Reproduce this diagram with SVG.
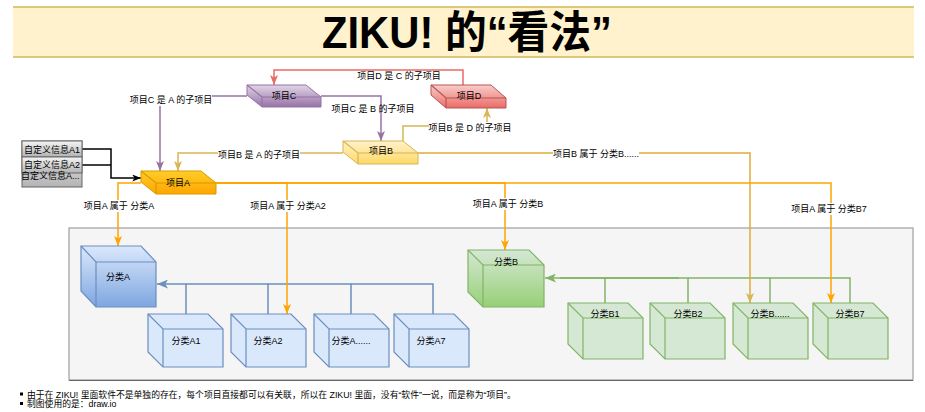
<svg xmlns="http://www.w3.org/2000/svg" width="925" height="412" viewBox="0 0 925 412">
<style>
text{font-family:'Liberation Sans','Noto Sans CJK SC',sans-serif;font-size:9px;fill:#000}
.lbl{text-anchor:middle}
.bg{fill:#fff}
.edge{fill:none;stroke-width:1.5}
.cubeA{fill:#dae8fc;stroke:#6c8ebf;stroke-width:1.2}
.cubeB{fill:#d5e8d4;stroke:#82b366;stroke-width:1.2}
.in{fill:none;stroke-width:1.2}
</style>
<defs>
<linearGradient id="gA" x1="0" y1="0" x2="0" y2="1"><stop offset="0" stop-color="#dae8fc"/><stop offset="1" stop-color="#7ea6e0"/></linearGradient>
<linearGradient id="gB" x1="0" y1="0" x2="0" y2="1"><stop offset="0" stop-color="#d5e8d4"/><stop offset="1" stop-color="#97d077"/></linearGradient>
<linearGradient id="gPA" x1="0" y1="0" x2="0" y2="1"><stop offset="0" stop-color="#ffcd28"/><stop offset="1" stop-color="#ffa500"/></linearGradient>
<linearGradient id="gPB" x1="0" y1="0" x2="0" y2="1"><stop offset="0" stop-color="#fff2cc"/><stop offset="1" stop-color="#ffd966"/></linearGradient>
<linearGradient id="gPC" x1="0" y1="0" x2="0" y2="1"><stop offset="0" stop-color="#e1d5e7"/><stop offset="1" stop-color="#9673a6"/></linearGradient>
<linearGradient id="gPD" x1="0" y1="0" x2="0" y2="1"><stop offset="0" stop-color="#f8cecc"/><stop offset="1" stop-color="#ea6b66"/></linearGradient>
<linearGradient id="gT" x1="0" y1="0" x2="0" y2="1"><stop offset="0" stop-color="#f5f5f5"/><stop offset="1" stop-color="#b3b3b3"/></linearGradient>
<marker id="mRed" viewBox="0 0 10 8" refX="10" refY="4" markerWidth="10" markerHeight="8" markerUnits="userSpaceOnUse" orient="auto"><path d="M0,0 L10,4 L0,8 L2.5,4 Z" fill="#ea6b66"/></marker>
<marker id="mPur" viewBox="0 0 10 8" refX="10" refY="4" markerWidth="10" markerHeight="8" markerUnits="userSpaceOnUse" orient="auto"><path d="M0,0 L10,4 L0,8 L2.5,4 Z" fill="#9673a6"/></marker>
<marker id="mGold" viewBox="0 0 10 8" refX="10" refY="4" markerWidth="10" markerHeight="8" markerUnits="userSpaceOnUse" orient="auto"><path d="M0,0 L10,4 L0,8 L2.5,4 Z" fill="#d6b656"/></marker>
<marker id="mOr" viewBox="0 0 10 8" refX="10" refY="4" markerWidth="10" markerHeight="8" markerUnits="userSpaceOnUse" orient="auto"><path d="M0,0 L10,4 L0,8 L2.5,4 Z" fill="#ffa500"/></marker>
<marker id="mBlk" viewBox="0 0 10 8" refX="10" refY="4" markerWidth="9" markerHeight="7" markerUnits="userSpaceOnUse" orient="auto"><path d="M0,0 L10,4 L0,8 L2.5,4 Z" fill="#000"/></marker>
<marker id="mBlue" viewBox="0 0 10 8" refX="10" refY="4" markerWidth="11" markerHeight="9" markerUnits="userSpaceOnUse" orient="auto"><path d="M0,0 L10,4 L0,8 L2.5,4 Z" fill="#6c8ebf"/></marker>
<marker id="mGreen" viewBox="0 0 10 8" refX="10" refY="4" markerWidth="11" markerHeight="9" markerUnits="userSpaceOnUse" orient="auto"><path d="M0,0 L10,4 L0,8 L2.5,4 Z" fill="#82b366"/></marker>
</defs>

<g id="title">
<rect x="13" y="7" width="901" height="50" fill="#fff2cc"/>
<line x1="13" y1="7" x2="914" y2="7" stroke="#d6b656" stroke-width="1.5"/>
<line x1="13" y1="57" x2="914" y2="57" stroke="#d6b656" stroke-width="1.5"/>
<text x="467" y="48" text-anchor="middle" style="font-size:44px;font-weight:bold" textLength="290" lengthAdjust="spacingAndGlyphs">ZIKU! 的“看法”</text>
</g>

<g id="container">
<rect x="69" y="228" width="844" height="152" fill="#f5f5f5" stroke="#9e9e9e" stroke-width="1.2"/>
<line x1="69" y1="380.5" x2="913" y2="380.5" stroke="#666" stroke-width="1"/>
</g>

<g id="connectors">
<!-- category A bus -->
<path class="edge" stroke="#6c8ebf" stroke-width="2" d="M186,314 V284 H157" marker-end="url(#mBlue)"/>
<path class="edge" stroke="#6c8ebf" stroke-width="2" d="M268,314 V284 H186"/>
<path class="edge" stroke="#6c8ebf" stroke-width="2" d="M351,314 V284 H268"/>
<path class="edge" stroke="#6c8ebf" stroke-width="2" d="M433,314 V284 H351"/>
<!-- category B bus -->
<path class="edge" stroke="#82b366" stroke-width="2" d="M605,303 V278 H545" marker-end="url(#mGreen)"/>
<path class="edge" stroke="#82b366" stroke-width="3" d="M679,278 H560"/>
<path class="edge" stroke="#82b366" stroke-width="2" d="M688,303 V278 H605"/>
<path class="edge" stroke="#82b366" stroke-width="2" d="M770,303 V278 H688"/>
<path class="edge" stroke="#82b366" stroke-width="2" d="M850,303 V278 H770"/>
<!-- table to A -->
<path class="edge" stroke="#000" stroke-width="1.2" d="M82,149 H111 V178 H141" marker-end="url(#mBlk)"/>
<path class="edge" stroke="#000" stroke-width="1.2" d="M82,165 H111"/>
<!-- D to C -->
<path class="edge" stroke="#ea6b66" d="M463,85 V70 H274 V85" marker-end="url(#mRed)"/>
<!-- C to A -->
<path class="edge" stroke="#9673a6" stroke-width="2" d="M247,96 H160 V171" marker-end="url(#mPur)"/>
<!-- C to B -->
<path class="edge" stroke="#9673a6" stroke-width="2" d="M321,96 H381 V141" marker-end="url(#mPur)"/>
<!-- B to A -->
<path class="edge" stroke="#d6b656" d="M343,153 H178 V171" marker-end="url(#mGold)"/>
<!-- B to D -->
<path class="edge" stroke="#d6b656" d="M403,141 V126 H487 V108" marker-end="url(#mGold)"/>
<!-- B to B... -->
<path class="edge" stroke="#e0ac38" d="M418,153 H750 V303" marker-end="url(#mGold)"/>
<!-- A to categories -->
<path class="edge" stroke="#ffa500" d="M141,183 H118 V246" marker-end="url(#mOr)"/>
<path class="edge" stroke="#ffa500" d="M216,183 H287 V314" marker-end="url(#mOr)"/>
<path class="edge" stroke="#ffa500" d="M216,183 H505 V250" marker-end="url(#mOr)"/>
<path class="edge" stroke="#ffa500" d="M216,183 H831 V303" marker-end="url(#mOr)"/>
<!-- labels -->
<text class="lbl" x="399" y="79">项目D 是 C 的子项目</text>
<rect class="bg" x="130" y="94" width="82" height="12"/>
<text class="lbl" x="171" y="103">项目C 是 A 的子项目</text>
<text class="lbl" x="373" y="112">项目C 是 B 的子项目</text>
<rect class="bg" x="218" y="149" width="82" height="12"/>
<text class="lbl" x="259" y="158">项目B 是 A 的子项目</text>
<rect class="bg" x="429" y="122" width="82" height="12"/>
<text class="lbl" x="470" y="131">项目B 是 D 的子项目</text>
<rect class="bg" x="553" y="148" width="86" height="12"/>
<text class="lbl" x="596" y="157">项目B 属于 分类B......</text>
<rect class="bg" x="83" y="200" width="71" height="12"/>
<text class="lbl" x="119" y="209">项目A 属于 分类A</text>
<rect class="bg" x="250" y="200" width="76" height="12"/>
<text class="lbl" x="288" y="209">项目A 属于 分类A2</text>
<rect class="bg" x="472" y="198" width="72" height="12"/>
<text class="lbl" x="508" y="207">项目A 属于 分类B</text>
<rect class="bg" x="791" y="203" width="76" height="12"/>
<text class="lbl" x="829" y="212">项目A 属于 分类B7</text>
</g>

<g id="table">
<rect x="22" y="141" width="60" height="46" fill="url(#gT)" stroke="#666" stroke-width="1"/>
<rect x="22" y="141" width="60" height="16" fill="url(#gT)" stroke="#666" stroke-width="1"/>
<rect x="22" y="157" width="60" height="16" fill="url(#gT)" stroke="#666" stroke-width="1"/>
<text x="24" y="152.5">自定义信息A1</text>
<text x="24" y="168">自定义信息A2</text>
<text x="21" y="178.5">自定义信息A...</text>
</g>

<g id="projectA">
<path d="M141,171 H201 L216,183 V194 H156 L141,182 Z" fill="url(#gPA)" stroke="#d79b00" stroke-width="1"/>
<path class="in" stroke="#d79b00" d="M141,171 L156,183 H216 M156,183 V194"/>
<text class="lbl" x="178" y="186">项目A</text>
</g>
<g id="projectB">
<path d="M343,141 H403 L418,153 V164 H358 L343,152 Z" fill="url(#gPB)" stroke="#d6b656" stroke-width="1"/>
<path class="in" stroke="#d6b656" d="M343,141 L358,153 H418 M358,153 V164"/>
<text class="lbl" x="381" y="154">项目B</text>
</g>
<g id="projectC">
<path d="M247,85 H306 L321,97 V107 H262 L247,95 Z" fill="url(#gPC)" stroke="#9673a6" stroke-width="1"/>
<path class="in" stroke="#9673a6" d="M247,85 L262,97 H321 M262,97 V107"/>
<text class="lbl" x="284" y="99">项目C</text>
</g>
<g id="projectD">
<path d="M431,85 H491 L506,98 V108 H446 L431,95 Z" fill="url(#gPD)" stroke="#b85450" stroke-width="1"/>
<path class="in" stroke="#b85450" d="M431,85 L446,98 H506 M446,98 V108"/>
<text class="lbl" x="469" y="99">项目D</text>
</g>

<g id="catA">
<path d="M81,246 H141 L156,262 V307 H96 L81,291 Z" fill="url(#gA)" stroke="#6c8ebf" stroke-width="1.2"/>
<path class="in" stroke="#6c8ebf" d="M81,246 L96,262 H156 M96,262 V307"/>
<text class="lbl" x="118" y="280">分类A</text>
</g>
<g id="catA1">
<path class="cubeA" d="M148,314 H208 L223,329 V367 H163 L148,352 Z"/>
<path class="in" stroke="#6c8ebf" d="M148,314 L163,329 H223 M163,329 V367"/>
<text class="lbl" x="186" y="344">分类A1</text>
</g>
<g id="catA2">
<path class="cubeA" d="M231,314 H291 L306,329 V367 H246 L231,352 Z"/>
<path class="in" stroke="#6c8ebf" d="M231,314 L246,329 H306 M246,329 V367"/>
<text class="lbl" x="268" y="344">分类A2</text>
</g>
<g id="catAx">
<path class="cubeA" d="M314,314 H374 L389,329 V367 H329 L314,352 Z"/>
<path class="in" stroke="#6c8ebf" d="M314,314 L329,329 H389 M329,329 V367"/>
<text class="lbl" x="351" y="344">分类A......</text>
</g>
<g id="catA7">
<path class="cubeA" d="M394,314 H454 L469,329 V367 H409 L394,352 Z"/>
<path class="in" stroke="#6c8ebf" d="M394,314 L409,329 H469 M409,329 V367"/>
<text class="lbl" x="431" y="344">分类A7</text>
</g>

<g id="catB">
<path d="M468,250 H529 L544,265 V307 H483 L468,292 Z" fill="url(#gB)" stroke="#82b366" stroke-width="1.2"/>
<path class="in" stroke="#82b366" d="M468,250 L483,265 H544 M483,265 V307"/>
<text class="lbl" x="506" y="265">分类B</text>
</g>
<g id="catB1">
<path class="cubeB" d="M568,303 H628 L643,318 V359 H583 L568,344 Z"/>
<path class="in" stroke="#82b366" d="M568,303 L583,318 H643 M583,318 V359"/>
<text class="lbl" x="605" y="317">分类B1</text>
</g>
<g id="catB2">
<path class="cubeB" d="M650,303 H710 L725,318 V359 H665 L650,344 Z"/>
<path class="in" stroke="#82b366" d="M650,303 L665,318 H725 M665,318 V359"/>
<text class="lbl" x="688" y="317">分类B2</text>
</g>
<g id="catBx">
<path class="cubeB" d="M733,303 H793 L808,318 V359 H748 L733,344 Z"/>
<path class="in" stroke="#82b366" d="M733,303 L748,318 H808 M748,318 V359"/>
<text class="lbl" x="770" y="317">分类B......</text>
</g>
<g id="catB7">
<path class="cubeB" d="M813,303 H873 L888,318 V359 H828 L813,344 Z"/>
<path class="in" stroke="#82b366" d="M813,303 L828,318 H888 M828,318 V359"/>
<text class="lbl" x="850" y="317">分类B7</text>
</g>

<g id="notes">
<rect x="20" y="392.5" width="3" height="3" fill="#000"/>
<rect x="20" y="402" width="3" height="3" fill="#000"/>
<text x="27" y="397.5" style="font-size:8.8px">由于在 ZIKU! 里面软件不是单独的存在，每个项目直接都可以有关联，所以在 ZIKU! 里面，没有“软件”一说，而是称为“项目”。</text>
<text x="27" y="407" style="font-size:8.8px">制图使用的是：draw.io</text>
</g>
</svg>
